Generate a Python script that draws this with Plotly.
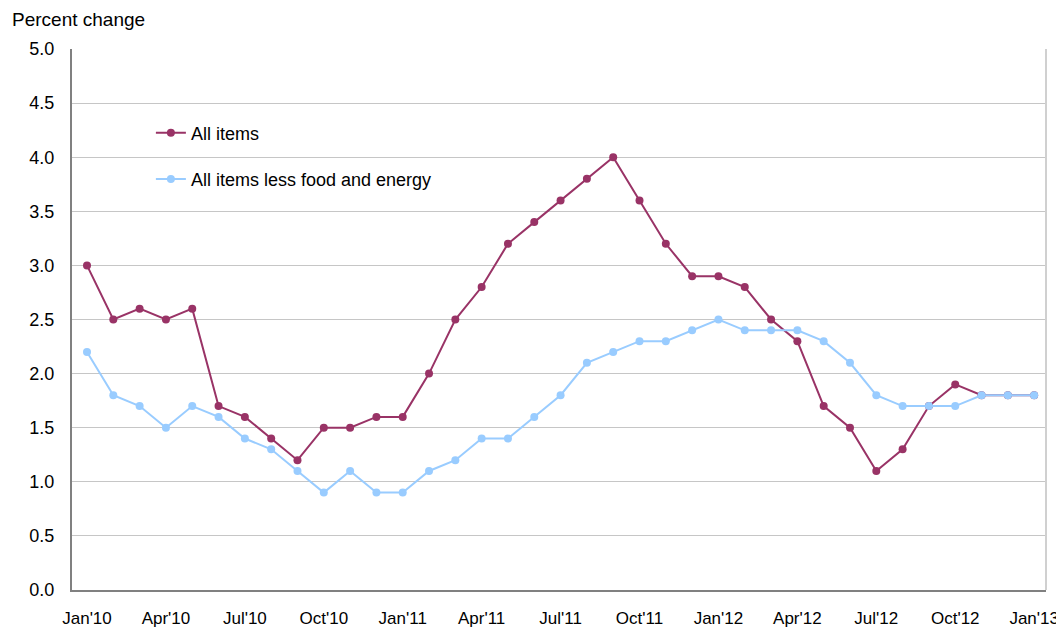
import plotly.graph_objects as go

months = ["Jan'10","Feb'10","Mar'10","Apr'10","May'10","Jun'10","Jul'10","Aug'10","Sep'10","Oct'10","Nov'10","Dec'10",
          "Jan'11","Feb'11","Mar'11","Apr'11","May'11","Jun'11","Jul'11","Aug'11","Sep'11","Oct'11","Nov'11","Dec'11",
          "Jan'12","Feb'12","Mar'12","Apr'12","May'12","Jun'12","Jul'12","Aug'12","Sep'12","Oct'12","Nov'12","Dec'12",
          "Jan'13"]
all_items = [3.0, 2.5, 2.6, 2.5, 2.6, 1.7, 1.6, 1.4, 1.2, 1.5, 1.5, 1.6,
             1.6, 2.0, 2.5, 2.8, 3.2, 3.4, 3.6, 3.8, 4.0, 3.6, 3.2, 2.9,
             2.9, 2.8, 2.5, 2.3, 1.7, 1.5, 1.1, 1.3, 1.7, 1.9, 1.8, 1.8,
             1.8]
core = [2.2, 1.8, 1.7, 1.5, 1.7, 1.6, 1.4, 1.3, 1.1, 0.9, 1.1, 0.9,
        0.9, 1.1, 1.2, 1.4, 1.4, 1.6, 1.8, 2.1, 2.2, 2.3, 2.3, 2.4,
        2.5, 2.4, 2.4, 2.4, 2.3, 2.1, 1.8, 1.7, 1.7, 1.7, 1.8, 1.8,
        1.8]
tick_labels = ["Jan'10","Apr'10","Jul'10","Oct'10","Jan'11","Apr'11","Jul'11","Oct'11",
               "Jan'12","Apr'12","Jul'12","Oct'12","Jan'13"]

x = list(range(len(months)))
tick_idx = [months.index(t) for t in tick_labels]

FONT = "Liberation Sans, Arial, sans-serif"

fig = go.Figure()
fig.add_trace(go.Scatter(x=x, y=all_items, mode="lines+markers", name="All items",
                         legendgroup="a", customdata=months,
                         line=dict(color="#993366", width=2),
                         marker=dict(color="#993366", size=8)))
fig.add_trace(go.Scatter(x=x, y=core, mode="lines+markers", name="All items less food and energy",
                         legendgroup="b", customdata=months,
                         line=dict(color="#99CCFF", width=2),
                         marker=dict(color="#99CCFF", size=8)))

# the page has an 8px body margin; the figure is sized so it ends at the window edge
fig.update_layout(
    width=1056, height=619,
    margin=dict(l=64, r=18, t=41, b=37, autoexpand=False),
    paper_bgcolor="white", plot_bgcolor="white",
    font=dict(family=FONT, size=18, color="black"),
    showlegend=True,
    legend=dict(x=0.081, y=0.879, xanchor="left", yanchor="top",
                bgcolor="rgba(0,0,0,0)", font=dict(size=18, family=FONT),
                traceorder="grouped", tracegroupgap=20, itemwidth=30),
    xaxis=dict(range=[-0.57, 36.45], tickmode="array", tickvals=tick_idx, ticktext=tick_labels,
               showgrid=False, zeroline=False, showline=True, linecolor="#808080", linewidth=2,
               ticks="outside", ticklen=12, tickcolor="rgba(0,0,0,0)", automargin=False,
               ticklabeloverflow="allow", tickfont=dict(size=17, family=FONT)),
    yaxis=dict(range=[0, 5], dtick=0.5, tickformat=".1f", showgrid=True, gridcolor="#C6C6C6",
               gridwidth=1, zeroline=False, showline=True, linecolor="#808080", linewidth=2,
               ticks="outside", ticklen=12, tickcolor="rgba(0,0,0,0)", automargin=False,
               tickfont=dict(size=18, family=FONT)),
    annotations=[dict(text="Percent change", xref="paper", yref="paper", x=0, y=1,
                      xanchor="left", yanchor="middle", xshift=-62, yshift=30,
                      showarrow=False, font=dict(size=19, family=FONT))],
    shapes=[dict(type="line", xref="paper", yref="paper", x0=1, x1=1, y0=0, y1=1,
                 line=dict(color="#D0D0D0", width=2))],
)

fig.write_html("out.html")
